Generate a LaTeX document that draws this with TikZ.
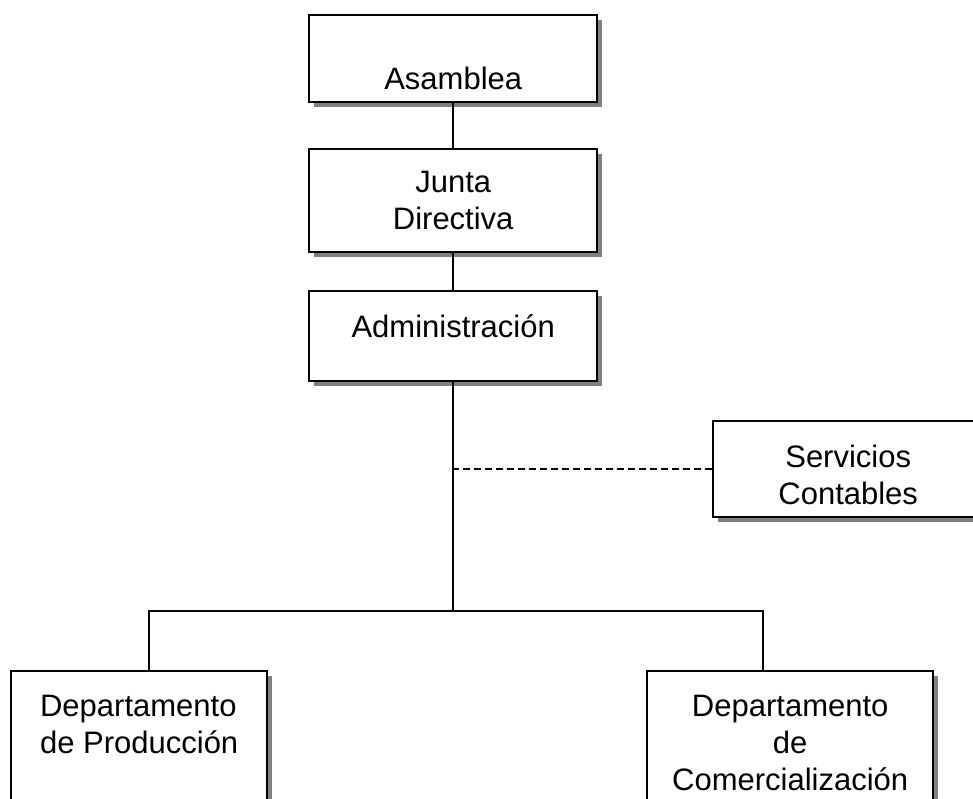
\documentclass[tikz,border=0pt]{standalone}
\usepackage{fontspec}
\setmainfont{Liberation Sans}
\usetikzlibrary{shadows}

\begin{document}
\begin{tikzpicture}[x=1pt,y=-1pt,
    caja/.style={draw,line width=2.4pt,fill=white,inner sep=0pt,anchor=north west,align=center,
        font=\fontsize{31}{37}\selectfont,
        drop shadow={shadow xshift=5pt,shadow yshift=-5pt,fill=black!50,opacity=1}},
    linea/.style={line width=2pt}]
    \useasboundingbox (0,0) rectangle (973,798);

    % cajas
    \node[caja,minimum width=288pt,text height=74pt,text depth=13pt] (asamblea) at (308,14) {Asamblea};
    \node[caja,minimum width=288pt,text height=80pt,text depth=23pt] (junta) at (308,148) {Junta\\Directiva};
    \node[caja,minimum width=288pt,text height=46pt,text depth=44pt] (admin) at (308,290) {Administración};
    \node[caja,minimum width=270pt,text height=83pt,text depth=13pt] (servicios) at (712,420) {Servicios\\Contables};
    \node[caja,minimum width=256pt,text height=82pt,text depth=100pt,align=left] (produccion) at (10,670) {Departamento\\de Producción};
    \node[caja,minimum width=286pt,text height=119pt,text depth=60pt] (comercial) at (646,670) {Departamento\\de\\Comercialización};

    % lineas
    \coordinate (rama) at (admin.south |- 0,611);
    \draw[linea] (asamblea.south) -- (junta.north);
    \draw[linea] (junta.south) -- (admin.north);
    \draw[linea] (admin.south) -- (rama);
    \draw[linea] ([xshift=10pt]produccion.north) |- (rama) -| ([xshift=-27pt]comercial.north);
    \draw[linea,dash pattern=on 7pt off 4pt] (servicios.west) -- (servicios.west -| rama);
\end{tikzpicture}
\end{document}
